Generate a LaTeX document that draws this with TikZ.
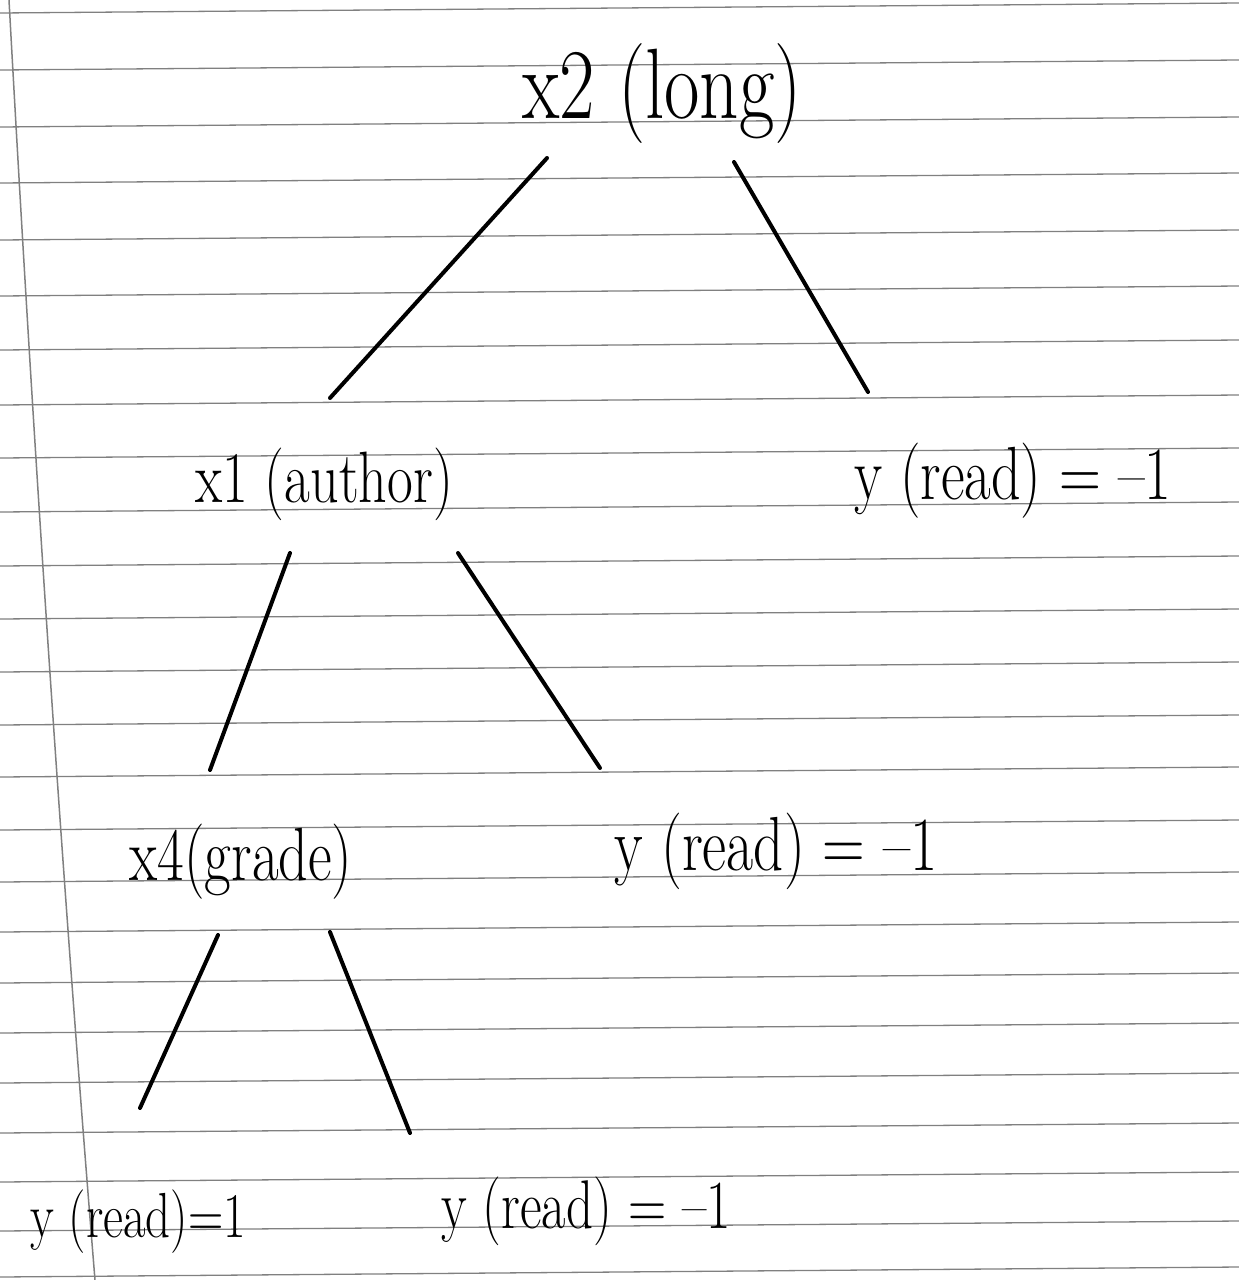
\documentclass[tikz,border=0pt]{standalone}
\usepackage{fontspec}
\usetikzlibrary{calc}
\newcommand{\hand}[1]{\scalebox{1}[1.3]{#1}}
\begin{document}
\begin{tikzpicture}[x=1pt,y=-1pt,
  paper/.style={black!50, line width=1.3pt},
  ink/.style={black, line width=4pt, line cap=round},
  lbl/.style={anchor=base, inner sep=0pt, text=black},
]
\useasboundingbox[fill=white] (0,0) rectangle (1239,1280);
% ruled paper
\foreach \yy in {13,70,127,183,240,296,350,405,458,512,566,619,672,725,777,830,882,932,983,1033,1083,1133,1182,1231,1277}
  \draw[paper] (0,\yy) -- (1239,{\yy-10});
\draw[paper, line width=1.5pt] (9,0) .. controls (32,420) and (60,850) .. (95,1280);
% labels
\node[lbl, font=\fontsize{77}{80}\selectfont] (x2) at (662,118) {\hand{x2 (long)}};
\node[lbl, font=\fontsize{56}{60}\selectfont] (x1) at (324,502) {\hand{x1 (author)}};
\node[lbl, font=\fontsize{58}{60}\selectfont] (yR) at (1013,499) {\hand{y (read) = –1}};
\node[lbl, font=\fontsize{58}{60}\selectfont] (x4) at (241,880) {\hand{x4(grade)}};
\node[lbl, font=\fontsize{59}{60}\selectfont] (yM) at (776,870) {\hand{y (read) = –1}};
\node[lbl, font=\fontsize{49}{52}\selectfont] (yL) at (138,1237) {\hand{y (read)=1}};
\node[lbl, font=\fontsize{53}{56}\selectfont] (yB) at (586,1228) {\hand{y (read) = –1}};
% connectors
\draw[ink] ($(x2.base)+(-115,40)$) -- ($(x1.base)+(6,-104)$);
\draw[ink] ($(x2.base)+(72,44)$) -- ($(yR.base)+(-145,-107)$);
\draw[ink] ($(x1.base)+(-34,51)$) -- ($(x4.base)+(-31,-110)$);
\draw[ink] ($(x1.base)+(134,51)$) -- ($(yM.base)+(-176,-102)$);
\draw[ink] ($(x4.base)+(-23,55)$) -- ($(yL.base)+(2,-129)$);
\draw[ink] ($(x4.base)+(89,52)$) -- ($(yB.base)+(-176,-95)$);
\end{tikzpicture}
\end{document}
